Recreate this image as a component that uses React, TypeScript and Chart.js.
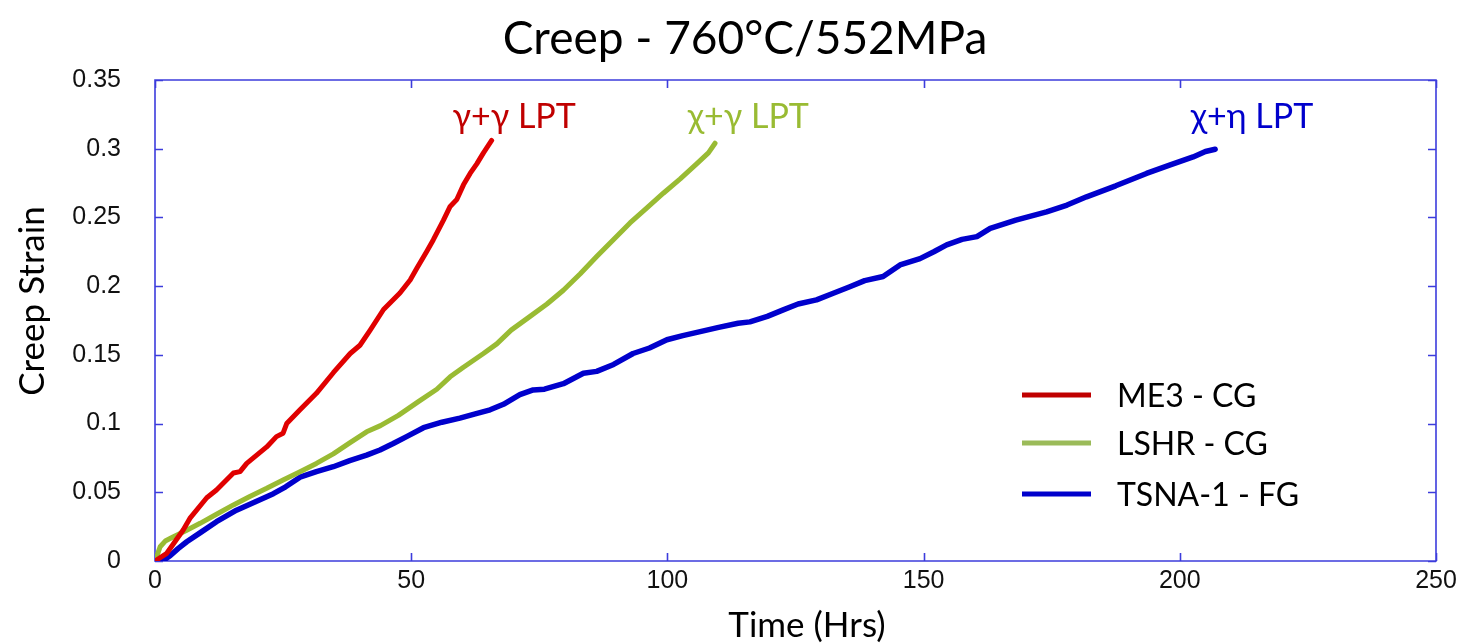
import React, { useEffect, useRef } from 'react';
import { Chart, registerables } from 'chart.js';

Chart.register(...registerables);

// ---------- data ----------
const me3Hours = [0, 0.3, 2.3, 5.5, 6.8, 10.1, 12.0, 15.3, 16.6, 17.9, 21.8, 23.7, 25.0, 25.7, 28.3, 31.5, 34.8, 38.1, 40.0, 42.0, 44.6, 47.8, 49.8, 51.1, 53.0, 54.3, 56.3, 57.6, 58.9, 60.2, 61.5, 62.8, 64.1, 65.7];
const me3Strain = [0, 0.0007, 0.0056, 0.0226, 0.031, 0.046, 0.0517, 0.064, 0.065, 0.071, 0.083, 0.0905, 0.093, 0.1, 0.11, 0.122, 0.137, 0.151, 0.157, 0.168, 0.183, 0.195, 0.2045, 0.213, 0.225, 0.2336, 0.248, 0.258, 0.263, 0.2737, 0.282, 0.289, 0.297, 0.306];

const lshrHours = [0, 0.5, 1, 2, 3.6, 6, 8.8, 12, 15.3, 18.5, 21.8, 25, 28.3, 31.5, 34.8, 38, 41.3, 44, 47.5, 51.4, 55, 57.6, 60.2, 64.1, 66.7, 69.5, 73.2, 76.5, 79.7, 83, 86.2, 89.5, 92.7, 96, 99.2, 102.5, 105.7, 108, 109.3];
const lshrStrain = [0, 0.005, 0.0104, 0.0145, 0.0177, 0.022, 0.0274, 0.034, 0.0408, 0.047, 0.0529, 0.059, 0.065, 0.071, 0.078, 0.086, 0.094, 0.0985, 0.106, 0.116, 0.125, 0.134, 0.141, 0.151, 0.158, 0.168, 0.178, 0.187, 0.197, 0.209, 0.2215, 0.234, 0.246, 0.257, 0.2676, 0.278, 0.289, 0.297, 0.304];

const tsnaHours = [0, 1.5, 3, 4.5, 6.2, 9, 12, 15.9, 19.5, 23.1, 25.5, 28.3, 31.5, 34.8, 38, 41.3, 43.9, 46.5, 49.1, 52.4, 56, 59.5, 62.5, 65.4, 68, 71.2, 73.8, 76, 79.7, 83.6, 86.2, 89.5, 93.3, 96.5, 99.9, 103, 106.4, 110, 113.8, 116.1, 119.5, 122.6, 125.5, 129.1, 132.5, 135.6, 138.5, 142.1, 145.4, 149.3, 152, 154.5, 157.5, 160.4, 163, 168, 174, 178, 181.8, 187.5, 193.5, 198, 202.6, 205, 206.9];
const tsnaStrain = [0, 0, 0.004, 0.009, 0.014, 0.021, 0.0286, 0.037, 0.043, 0.049, 0.054, 0.061, 0.065, 0.0686, 0.073, 0.077, 0.0808, 0.0855, 0.0905, 0.097, 0.101, 0.104, 0.107, 0.11, 0.114, 0.121, 0.1245, 0.125, 0.129, 0.1366, 0.138, 0.143, 0.151, 0.155, 0.161, 0.164, 0.1669, 0.17, 0.173, 0.174, 0.178, 0.1827, 0.187, 0.19, 0.195, 0.1996, 0.204, 0.207, 0.2154, 0.22, 0.225, 0.23, 0.234, 0.236, 0.242, 0.248, 0.254, 0.259, 0.265, 0.273, 0.282, 0.288, 0.294, 0.298, 0.2996];

const seriesNames = ['ME3 - CG', 'LSHR - CG', 'TSNA-1 - FG'];
const curveLabels = ['γ+γ LPT', 'χ+γ LPT', 'χ+η LPT'];
const xTickLabels = ['0', '50', '100', '150', '200', '250'];
const yTickLabels = ['0', '0.05', '0.1', '0.15', '0.2', '0.25', '0.3', '0.35'];

const chartTitle = 'Creep - 760°C/552MPa';
const xTitle = 'Time (Hrs)';
const yTitle = 'Creep Strain';

// ---------- styling / placement ----------
const LINE_COLORS = ['#e00000', '#99bb33', '#0000cc'];
const LABEL_COLORS = ['#c00000', '#99bb33', '#0000cc'];
const LEGEND_COLORS = ['#c00000', '#9bbb59', '#0000cc'];
const AXIS_COLOR = '#3c3cdc';
const SANS = "Lato, 'Open Sans', sans-serif";
const TICK_FONT = "'Liberation Sans', Arial, sans-serif";
// label anchors in data coordinates (hours, strain)
const labelAnchors = [
  { x: 70.1, y: 0.315 },
  { x: 115.8, y: 0.315 },
  { x: 214.1, y: 0.315 },
];

const toPoints = (xs: number[], ys: number[]) => xs.map((x, i) => ({ x, y: ys[i] }));

const decorPlugin = {
  id: 'decor',
  beforeDatasetsDraw(chart: any) {
    const { ctx, chartArea, scales } = chart;
    const { left, right, top, bottom } = chartArea;
    const xs = scales.x;
    const ys = scales.y;
    const tl = 8;
    ctx.save();
    ctx.strokeStyle = AXIS_COLOR;
    ctx.lineWidth = 1.6;
    ctx.beginPath();
    ctx.rect(left, top, right - left, bottom - top);
    xs.ticks.forEach((t: any) => {
      const px = Math.round(xs.getPixelForValue(t.value)) + 0.5;
      ctx.moveTo(px, bottom);
      ctx.lineTo(px, bottom - tl);
      ctx.moveTo(px, top);
      ctx.lineTo(px, top + tl);
    });
    ys.ticks.forEach((t: any) => {
      const py = Math.round(ys.getPixelForValue(t.value)) + 0.5;
      ctx.moveTo(left, py);
      ctx.lineTo(left + tl, py);
      ctx.moveTo(right, py);
      ctx.lineTo(right - tl, py);
    });
    ctx.stroke();
    ctx.restore();
  },
  afterDraw(chart: any) {
    const { ctx, scales } = chart;
    const xs = scales.x;
    const ys = scales.y;
    ctx.save();
    ctx.fillStyle = '#000';
    ctx.textBaseline = 'alphabetic';

    // title
    ctx.font = `46px ${SANS}`;
    ctx.textAlign = 'center';
    ctx.fillText(chartTitle, 745, 54);

    // x title
    ctx.font = `35px ${SANS}`;
    ctx.fillText(xTitle, 807, 637);

    // y title
    ctx.save();
    ctx.translate(44, 301);
    ctx.rotate(-Math.PI / 2);
    ctx.fillText(yTitle, 0, 0);
    ctx.restore();

    // curve labels
    ctx.font = `34px ${SANS}`;
    labelAnchors.forEach((a, i) => {
      ctx.fillStyle = LABEL_COLORS[i];
      ctx.fillText(curveLabels[i], xs.getPixelForValue(a.x), ys.getPixelForValue(a.y));
    });

    // legend
    const rowsY = [395, 443, 494];
    ctx.font = `32px ${SANS}`;
    ctx.textAlign = 'left';
    ctx.textBaseline = 'middle';
    chart.data.datasets.forEach((ds: any, i: number) => {
      const yy = rowsY[i];
      ctx.strokeStyle = LEGEND_COLORS[i];
      ctx.lineWidth = 5;
      ctx.beginPath();
      ctx.moveTo(1022, yy);
      ctx.lineTo(1091, yy);
      ctx.stroke();
      ctx.fillStyle = '#000';
      ctx.fillText(ds.label, 1117, yy + 2);
    });
    ctx.restore();
  },
};

export default function App() {
  const ref = useRef<HTMLCanvasElement | null>(null);
  useEffect(() => {
    if (!ref.current) return;
    const chart = new Chart(ref.current, {
      type: 'line',
      data: {
        datasets: [
          { label: seriesNames[0], data: toPoints(me3Hours, me3Strain), borderColor: LINE_COLORS[0], borderWidth: 5 },
          { label: seriesNames[1], data: toPoints(lshrHours, lshrStrain), borderColor: LINE_COLORS[1], borderWidth: 5 },
          { label: seriesNames[2], data: toPoints(tsnaHours, tsnaStrain), borderColor: LINE_COLORS[2], borderWidth: 5.5 },
        ],
      },
      options: {
        animation: false,
        responsive: false,
        devicePixelRatio: 1,
        layout: { padding: { top: 80, right: 27, left: 0, bottom: 0 } },
        elements: { point: { radius: 0, hoverRadius: 0 }, line: { tension: 0, borderJoinStyle: 'round', borderCapStyle: 'round' } },
        plugins: { legend: { display: false }, title: { display: false }, tooltip: { enabled: false } },
        scales: {
          x: {
            type: 'linear',
            min: 0,
            max: 250,
            grid: { display: false, drawTicks: false },
            border: { display: false },
            ticks: {
              stepSize: 50,
              padding: 5,
              color: '#111',
              font: { family: TICK_FONT, size: 25 },
              maxRotation: 0,
              callback: (_v: any, i: number) => xTickLabels[i],
            },
            afterFit: (s: any) => { s.height = 83; },
          },
          y: {
            type: 'linear',
            min: 0,
            max: 0.35,
            grid: { display: false, drawTicks: false },
            border: { display: false },
            ticks: {
              stepSize: 0.05,
              padding: 34,
              color: '#111',
              font: { family: TICK_FONT, size: 25 },
              callback: (_v: any, i: number) => yTickLabels[i],
            },
            afterFit: (s: any) => { s.width = 155; },
          },
        },
      },
      plugins: [decorPlugin],
    } as any);
    return () => chart.destroy();
  }, []);
  return (
    <div style={{ position: 'absolute', left: 0, top: 0, width: 1463, height: 644, background: '#fff' }}>
      <canvas ref={ref} width={1463} height={644} />
    </div>
  );
}
